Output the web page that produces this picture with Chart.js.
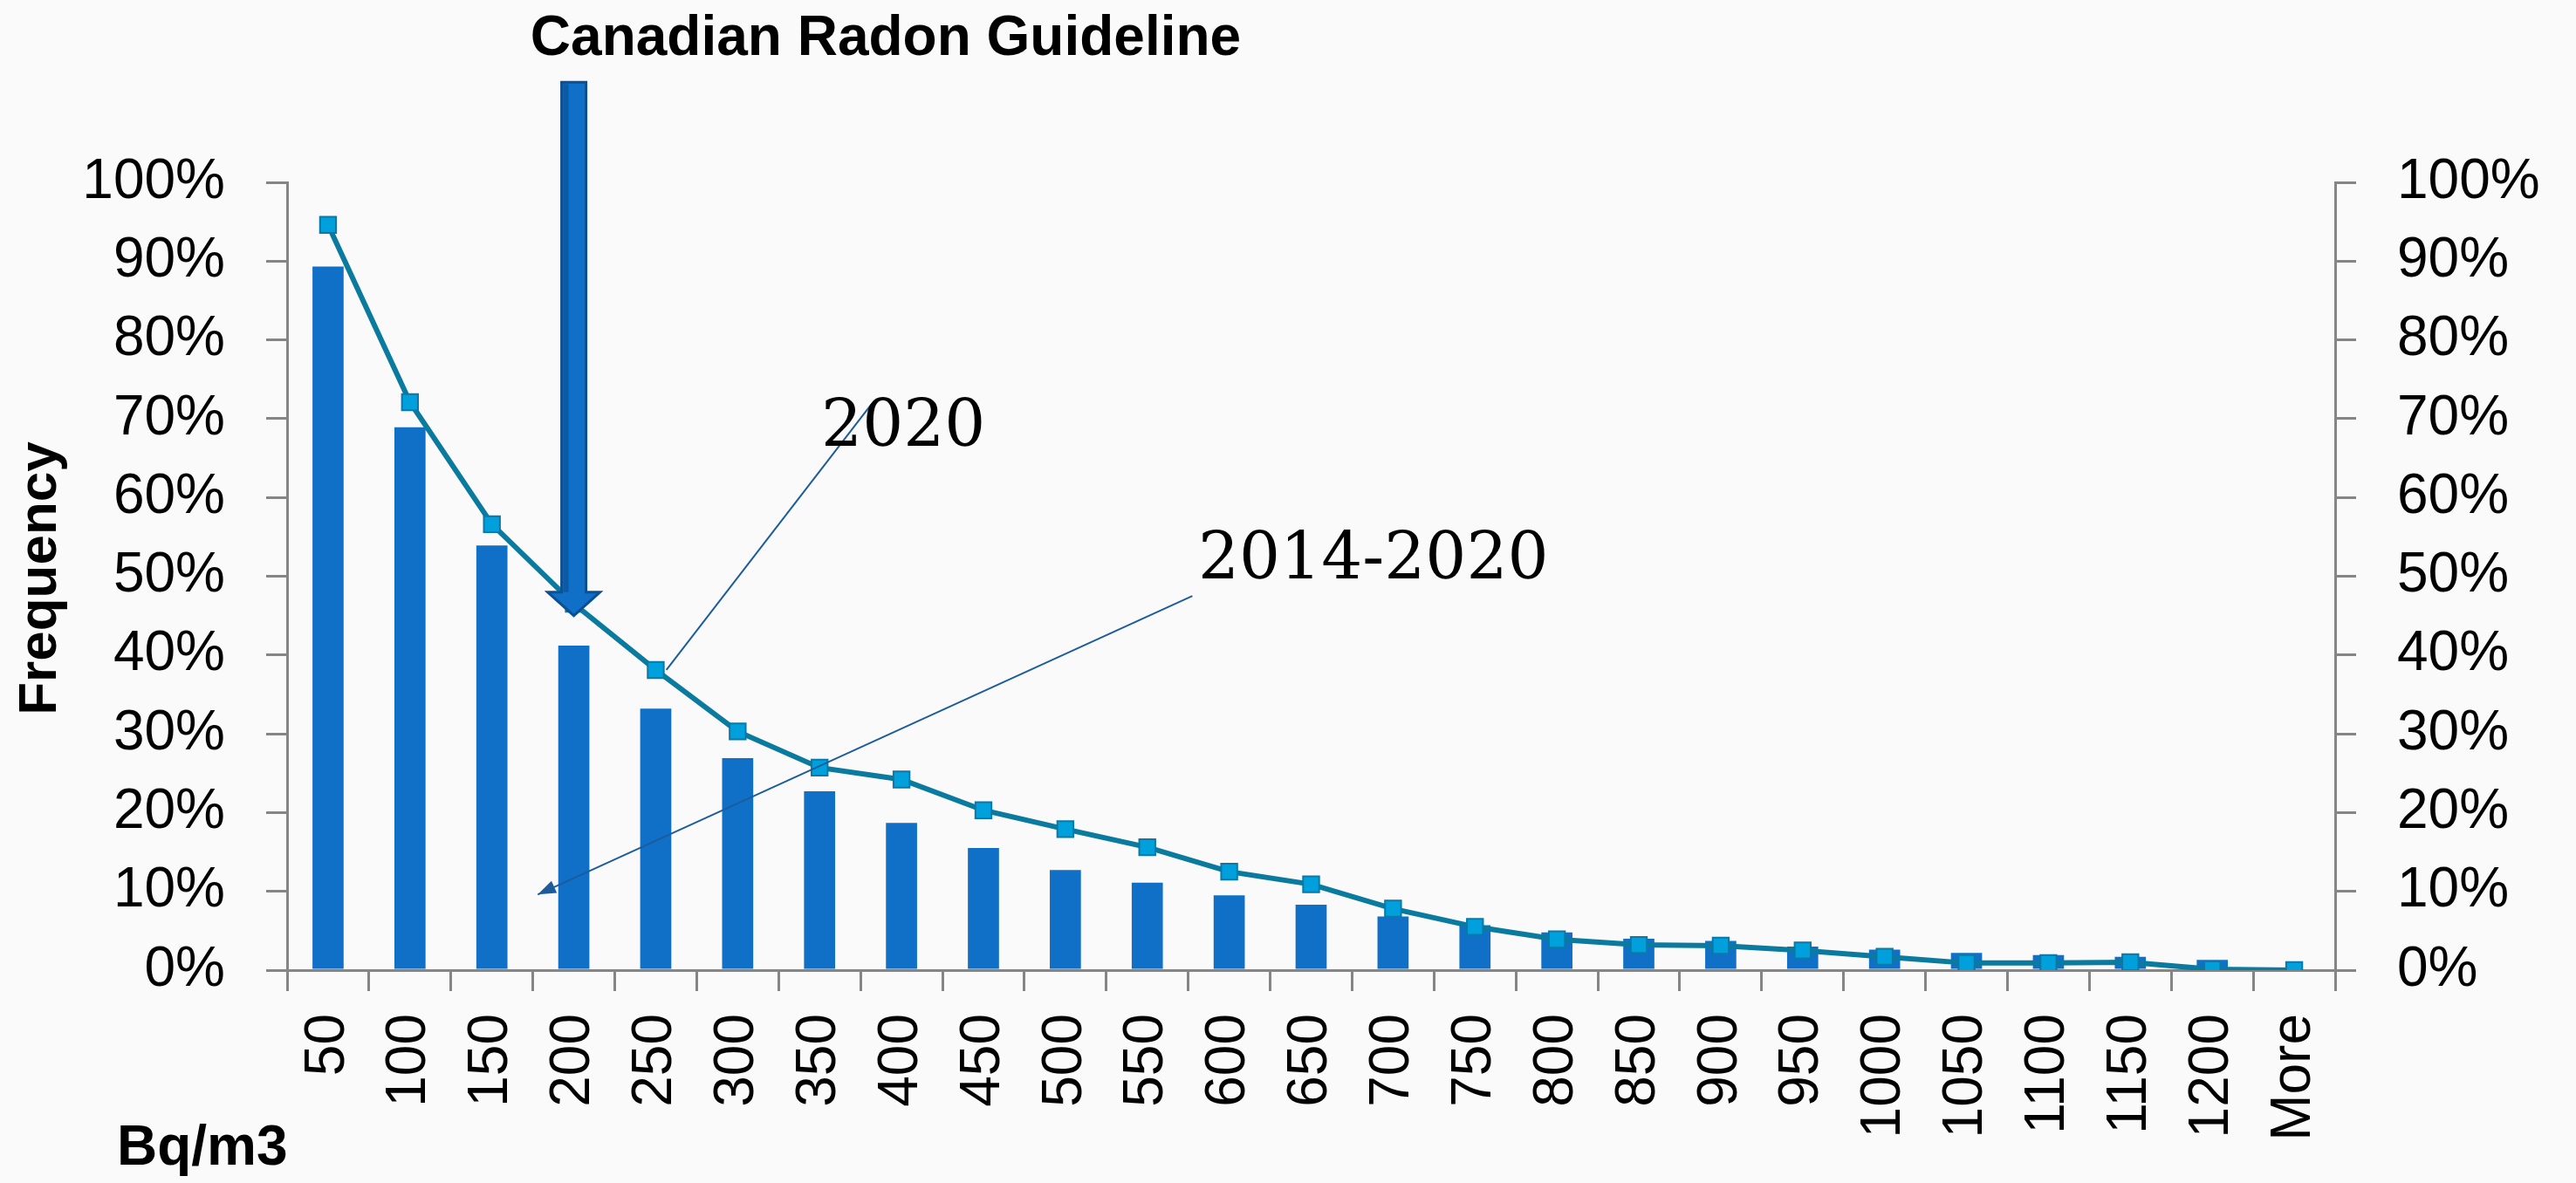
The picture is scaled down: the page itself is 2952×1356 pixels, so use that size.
<!DOCTYPE html>
<html>
<head>
<meta charset="utf-8">
<title>Canadian Radon Guideline</title>
<script src="https://cdn.jsdelivr.net/npm/chart.js@4"></script>
<style>
  html, body { margin: 0; padding: 0; background: #fafafa; }
  #wrap { width: 2952px; height: 1356px; position: relative; }
</style>
</head>
<body>
<div id="wrap"><canvas id="chart"></canvas></div>
<script>
// === Radon frequency chart (bars 2014-2020, line 2020) ===

// --- data (percent) ---
const categories = ["50", "100", "150", "200", "250", "300", "350", "400", "450", "500",
  "550", "600", "650", "700", "750", "800", "850", "900", "950", "1000",
  "1050", "1100", "1150", "1200", "More"];
const freq20142020 = [89.3, 68.9, 53.9, 41.2, 33.2, 26.9, 22.7, 18.7, 15.5, 12.7,
  11.1, 9.5, 8.3, 6.8, 5.7, 4.8, 4.0, 3.7, 3.0, 2.6,
  2.2, 1.9, 1.7, 1.3, 0];
const freq2020 = [94.6, 72.1, 56.6, 46.5, 38.1, 30.3, 25.7, 24.2, 20.3, 17.9,
  15.6, 12.5, 10.9, 7.8, 5.5, 3.9, 3.2, 3.1, 2.5, 1.7,
  0.9, 0.9, 1.0, 0.1, 0];
const percentTicks = [0, 10, 20, 30, 40, 50, 60, 70, 80, 90, 100];

// --- annotation anchors (category index / percent) ---
const GUIDELINE_AT = "200";
const GUIDELINE_TIP = 45;
const GUIDELINE_TOP = 112.7;

const TICK_FONT = { family: '"Liberation Sans", Arial, sans-serif', size: 64 };
const AXIS_GREY = "#858585";

// ============================================================
//  Annotations: arrow, leader lines, labels
// ============================================================
const annotations = {
  id: "annotations",
  afterDraw(chart) {
    const { ctx } = chart;
    const xs = chart.scales.x;
    const ys = chart.scales.y;
    const px = (i) => xs.getPixelForValue(i);
    const py = (v) => ys.getPixelForValue(v);

    ctx.save();

    // guideline arrow
    const cx = px(categories.indexOf(GUIDELINE_AT));
    const top = py(GUIDELINE_TOP);
    const tip = py(GUIDELINE_TIP);
    const sw = 14, hw = 30, hh = 27;
    ctx.beginPath();
    ctx.moveTo(cx - sw, top);
    ctx.lineTo(cx + sw, top);
    ctx.lineTo(cx + sw, tip - hh);
    ctx.lineTo(cx + hw, tip - hh);
    ctx.lineTo(cx, tip);
    ctx.lineTo(cx - hw, tip - hh);
    ctx.lineTo(cx - sw, tip - hh);
    ctx.closePath();
    ctx.fillStyle = "#1070c7";
    ctx.fill();
    ctx.lineWidth = 3;
    ctx.strokeStyle = "#0b4f94";
    ctx.stroke();
    ctx.fillStyle = "#0b5aa6";
    ctx.fillRect(cx - sw + 2, top + 2, 6, tip - hh - top - 2);

    // leader for 2020 line
    ctx.strokeStyle = "#1c5c9c";
    ctx.lineWidth = 2;
    ctx.beginPath();
    ctx.moveTo(px(4.13), py(38.1));
    ctx.lineTo(px(6.63), py(71.8));
    ctx.stroke();

    // leader for 2014-2020 bars, with small arrow head
    const ax = px(2.56), ay = py(9.6);
    const bx = px(10.55), by = py(47.5);
    ctx.beginPath();
    ctx.moveTo(ax, ay);
    ctx.lineTo(bx, by);
    ctx.stroke();
    const ang = Math.atan2(by - ay, bx - ax);
    ctx.beginPath();
    ctx.moveTo(ax, ay);
    ctx.lineTo(ax + 22 * Math.cos(ang - 0.35), ay + 22 * Math.sin(ang - 0.35));
    ctx.lineTo(ax + 22 * Math.cos(ang + 0.35), ay + 22 * Math.sin(ang + 0.35));
    ctx.closePath();
    ctx.fillStyle = "#1c5c9c";
    ctx.fill();

    // series labels
    ctx.fillStyle = "#000";
    ctx.font = '74px "DejaVu Serif", serif';
    ctx.textAlign = "left";
    ctx.textBaseline = "alphabetic";
    ctx.fillText("2020", px(6.02), py(66.6));
    ctx.fillText("2014-2020", px(10.62), py(49.7));

    // title + axis titles
    ctx.font = 'bold 64px "Liberation Sans", Arial, sans-serif';
    ctx.textAlign = "center";
    ctx.fillText("Canadian Radon Guideline", 1015, 63);

    ctx.textAlign = "left";
    ctx.fillText("Bq/m3", 134, 1335);

    ctx.translate(47, 663);
    ctx.rotate(-Math.PI / 2);
    ctx.textAlign = "center";
    ctx.textBaseline = "middle";
    ctx.font = 'bold 62px "Liberation Sans", Arial, sans-serif';
    ctx.fillText("Frequency", 0, 0);

    ctx.restore();
  }
};

// ============================================================
//  Axes
// ============================================================
function percentAxis(position, width) {
  return {
    position,
    min: 0,
    max: 100,
    afterBuildTicks: (s) => { s.ticks = percentTicks.map((v) => ({ value: v })); },
    afterFit: (s) => { s.width = width; },
    ticks: { font: TICK_FONT, color: "#000", padding: 47, callback: (v) => v + "%" },
    grid: { drawOnChartArea: false, tickLength: 24, color: AXIS_GREY, lineWidth: 3 },
    border: { color: AXIS_GREY, width: 3 }
  };
}

new Chart(document.getElementById("chart"), {
  type: "bar",
  data: {
    labels: categories,
    datasets: [
      {
        type: "line",
        label: "2020",
        data: freq2020,
        yAxisID: "y1",
        order: 0,
        borderColor: "#0a7a9e",
        borderWidth: 6,
        tension: 0,
        pointStyle: "rect",
        pointRadius: 13,
        pointBorderWidth: 2,
        pointBackgroundColor: "#00a0dc",
        pointBorderColor: "#0a78a8"
      },
      {
        label: "2014-2020",
        data: freq20142020,
        yAxisID: "y",
        order: 1,
        backgroundColor: "#1070c7",
        barPercentage: 0.38,
        categoryPercentage: 1.0
      }
    ]
  },
  options: {
    responsive: true,
    maintainAspectRatio: false,
    animation: false,
    layout: { padding: { top: 209, left: 0, right: 0, bottom: 0 } },
    plugins: { legend: { display: false }, tooltip: { enabled: false } },
    scales: {
      x: {
        afterFit: (s) => { s.height = 244; },
        ticks: { font: TICK_FONT, color: "#000", minRotation: 90, maxRotation: 90, padding: 26, autoSkip: false },
        grid: { drawOnChartArea: false, tickLength: 24, color: AXIS_GREY, lineWidth: 3 },
        border: { color: AXIS_GREY, width: 3 }
      },
      y: percentAxis("left", 329),
      y1: percentAxis("right", 276)
    }
  },
  plugins: [annotations]
});
</script>
</body>
</html>
